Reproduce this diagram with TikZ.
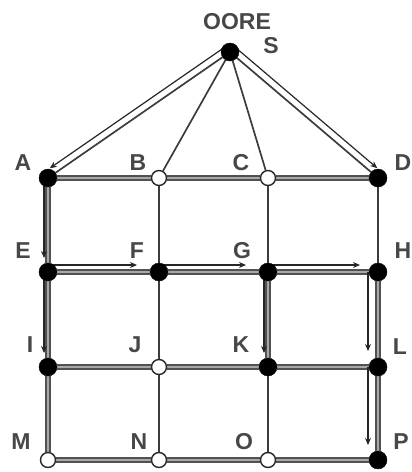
\documentclass[tikz,border=0pt]{standalone}
\usepackage{fontspec}
\setsansfont{Liberation Sans}
\usetikzlibrary{arrows.meta, positioning, calc, backgrounds}
\definecolor{edgegray}{HTML}{A8A8A8}
\definecolor{inkdark}{HTML}{262626}

\begin{document}
\begin{tikzpicture}[
        x=1pt, y=-1pt,
        full_node/.style={
            circle,
            fill=black,
            draw=black,
            minimum size=18pt,
            inner sep=0pt
        },
        open_node/.style={
            circle,
            fill=white,
            draw=inkdark,
            line width=1.4pt,
            minimum size=15pt,
            inner sep=0pt
        },
        tag_label/.style={
            font=\sffamily\bfseries\fontsize{23}{23}\selectfont,
            text=inkdark!85,
            inner sep=0pt
        },
        wide_edge/.style={
            draw=inkdark!80,
            line width=1.4pt,
            double=edgegray,
            double distance=2.8pt
        },
        thin_edge/.style={
            draw=inkdark!90,
            line width=1.7pt
        },
        flow/.style={
            -{Stealth[length=7pt, width=6pt]},
            draw=inkdark,
            line width=1.2pt
        }
    ]

    \useasboundingbox (0,0) rectangle (412,472);

    % Source and grid vertices
    \node[full_node] (s) at (230,52) {};
    \foreach \nm/\px/\py/\kind in {
        a/48/178/full_node, b/159/178/open_node, c/268/178/open_node, d/378/178/full_node,
        e/48/272/full_node, f/159/272/full_node, g/268/272/full_node, h/378/272/full_node,
        i/48/367/full_node, j/159/367/open_node, k/268/367/full_node, l/378/367/full_node,
        m/48/460/open_node, n/159/460/open_node, o/268/460/open_node, p/378/460/full_node}
        \node[\kind] (\nm) at (\px,\py) {};

    % Labels
    \node[tag_label] at (237,22) {OORE};
    \node[tag_label] at (271,46) {S};
    \foreach \nm/\txt/\dx/\dy in {
        a/A/-25/15, b/B/-21/15, c/C/-27/15, d/D/25/15,
        e/E/-25/21, f/F/-22/21, g/G/-26/21, h/H/25/21,
        i/I/-18/22, j/J/-24/22, k/K/-27/22, l/L/22/20,
        m/M/-27/18, n/N/-20/18, o/O/-24/18, p/P/23/18}
        \node[tag_label] at ([xshift=\dx pt, yshift=\dy pt]\nm.center) {\txt};

    \begin{scope}[on background layer]
        % Rows
        \draw[wide_edge] (a) -- (b);
        \draw[wide_edge] (b) -- (c);
        \draw[wide_edge] (c) -- (d);
        \draw[wide_edge] (e) -- (f);
        \draw[wide_edge] (f) -- (g);
        \draw[wide_edge] (g) -- (h);
        \draw[wide_edge] (i) -- (j);
        \draw[wide_edge] (j) -- (k);
        \draw[wide_edge] (k) -- (l);
        \draw[wide_edge] (m) -- (n);
        \draw[wide_edge] (n) -- (o);
        \draw[wide_edge] (o) -- (p);

        % Columns
        \draw[wide_edge] (a) -- (e);
        \draw[wide_edge] (e) -- (i);
        \draw[wide_edge] (i) -- (m);
        \draw[thin_edge] (b) -- (f);
        \draw[thin_edge] (f) -- (j);
        \draw[thin_edge] (j) -- (n);
        \draw[thin_edge] (c) -- (g);
        \draw[wide_edge] (g) -- (k);
        \draw[thin_edge] (k) -- (o);
        \draw[thin_edge] (d) -- (h);
        \draw[wide_edge] (h) -- (l);
        \draw[wide_edge] (l) -- (p);

        % Spokes from the source
        \draw[thin_edge] (s) -- (a);
        \draw[thin_edge] (s) -- (b);
        \draw[thin_edge] (s) -- (c);
        \draw[thin_edge] (s) -- (d);

        % Flow
        \draw[flow, shorten >=7pt] ($(s)!7pt!-90:(a)$) -- ($(a)!7pt!90:(s)$);
        \draw[flow, shorten >=7pt] ($(s)!7pt!90:(d)$) -- ($(d)!7pt!-90:(s)$);
        \draw[flow] ([xshift=-4pt]a.center) -- ([xshift=-4pt, yshift=14pt]e.center);
        \draw[flow] ([xshift=-4pt]e.center) -- ([xshift=-4pt, yshift=14pt]i.center);
        \draw[flow] ([xshift=-4pt]g.center) -- ([xshift=-4pt, yshift=14pt]k.center);
        \draw[flow] ([yshift=7pt]e.center) -- ([yshift=7pt, xshift=-22pt]f.center);
        \draw[flow] ([yshift=7pt]f.center) -- ([yshift=7pt, xshift=-22pt]g.center);
        \draw[flow] ([yshift=7pt]g.center) -- ([yshift=7pt, xshift=-18pt]h.center);
        \draw[flow] ([xshift=-10pt]h.center) -- ([xshift=-10pt, yshift=16pt]l.center);
        \draw[flow] ([xshift=-10pt]l.center) -- ([xshift=-10pt, yshift=15pt]p.center);
    \end{scope}

\end{tikzpicture}
\end{document}
